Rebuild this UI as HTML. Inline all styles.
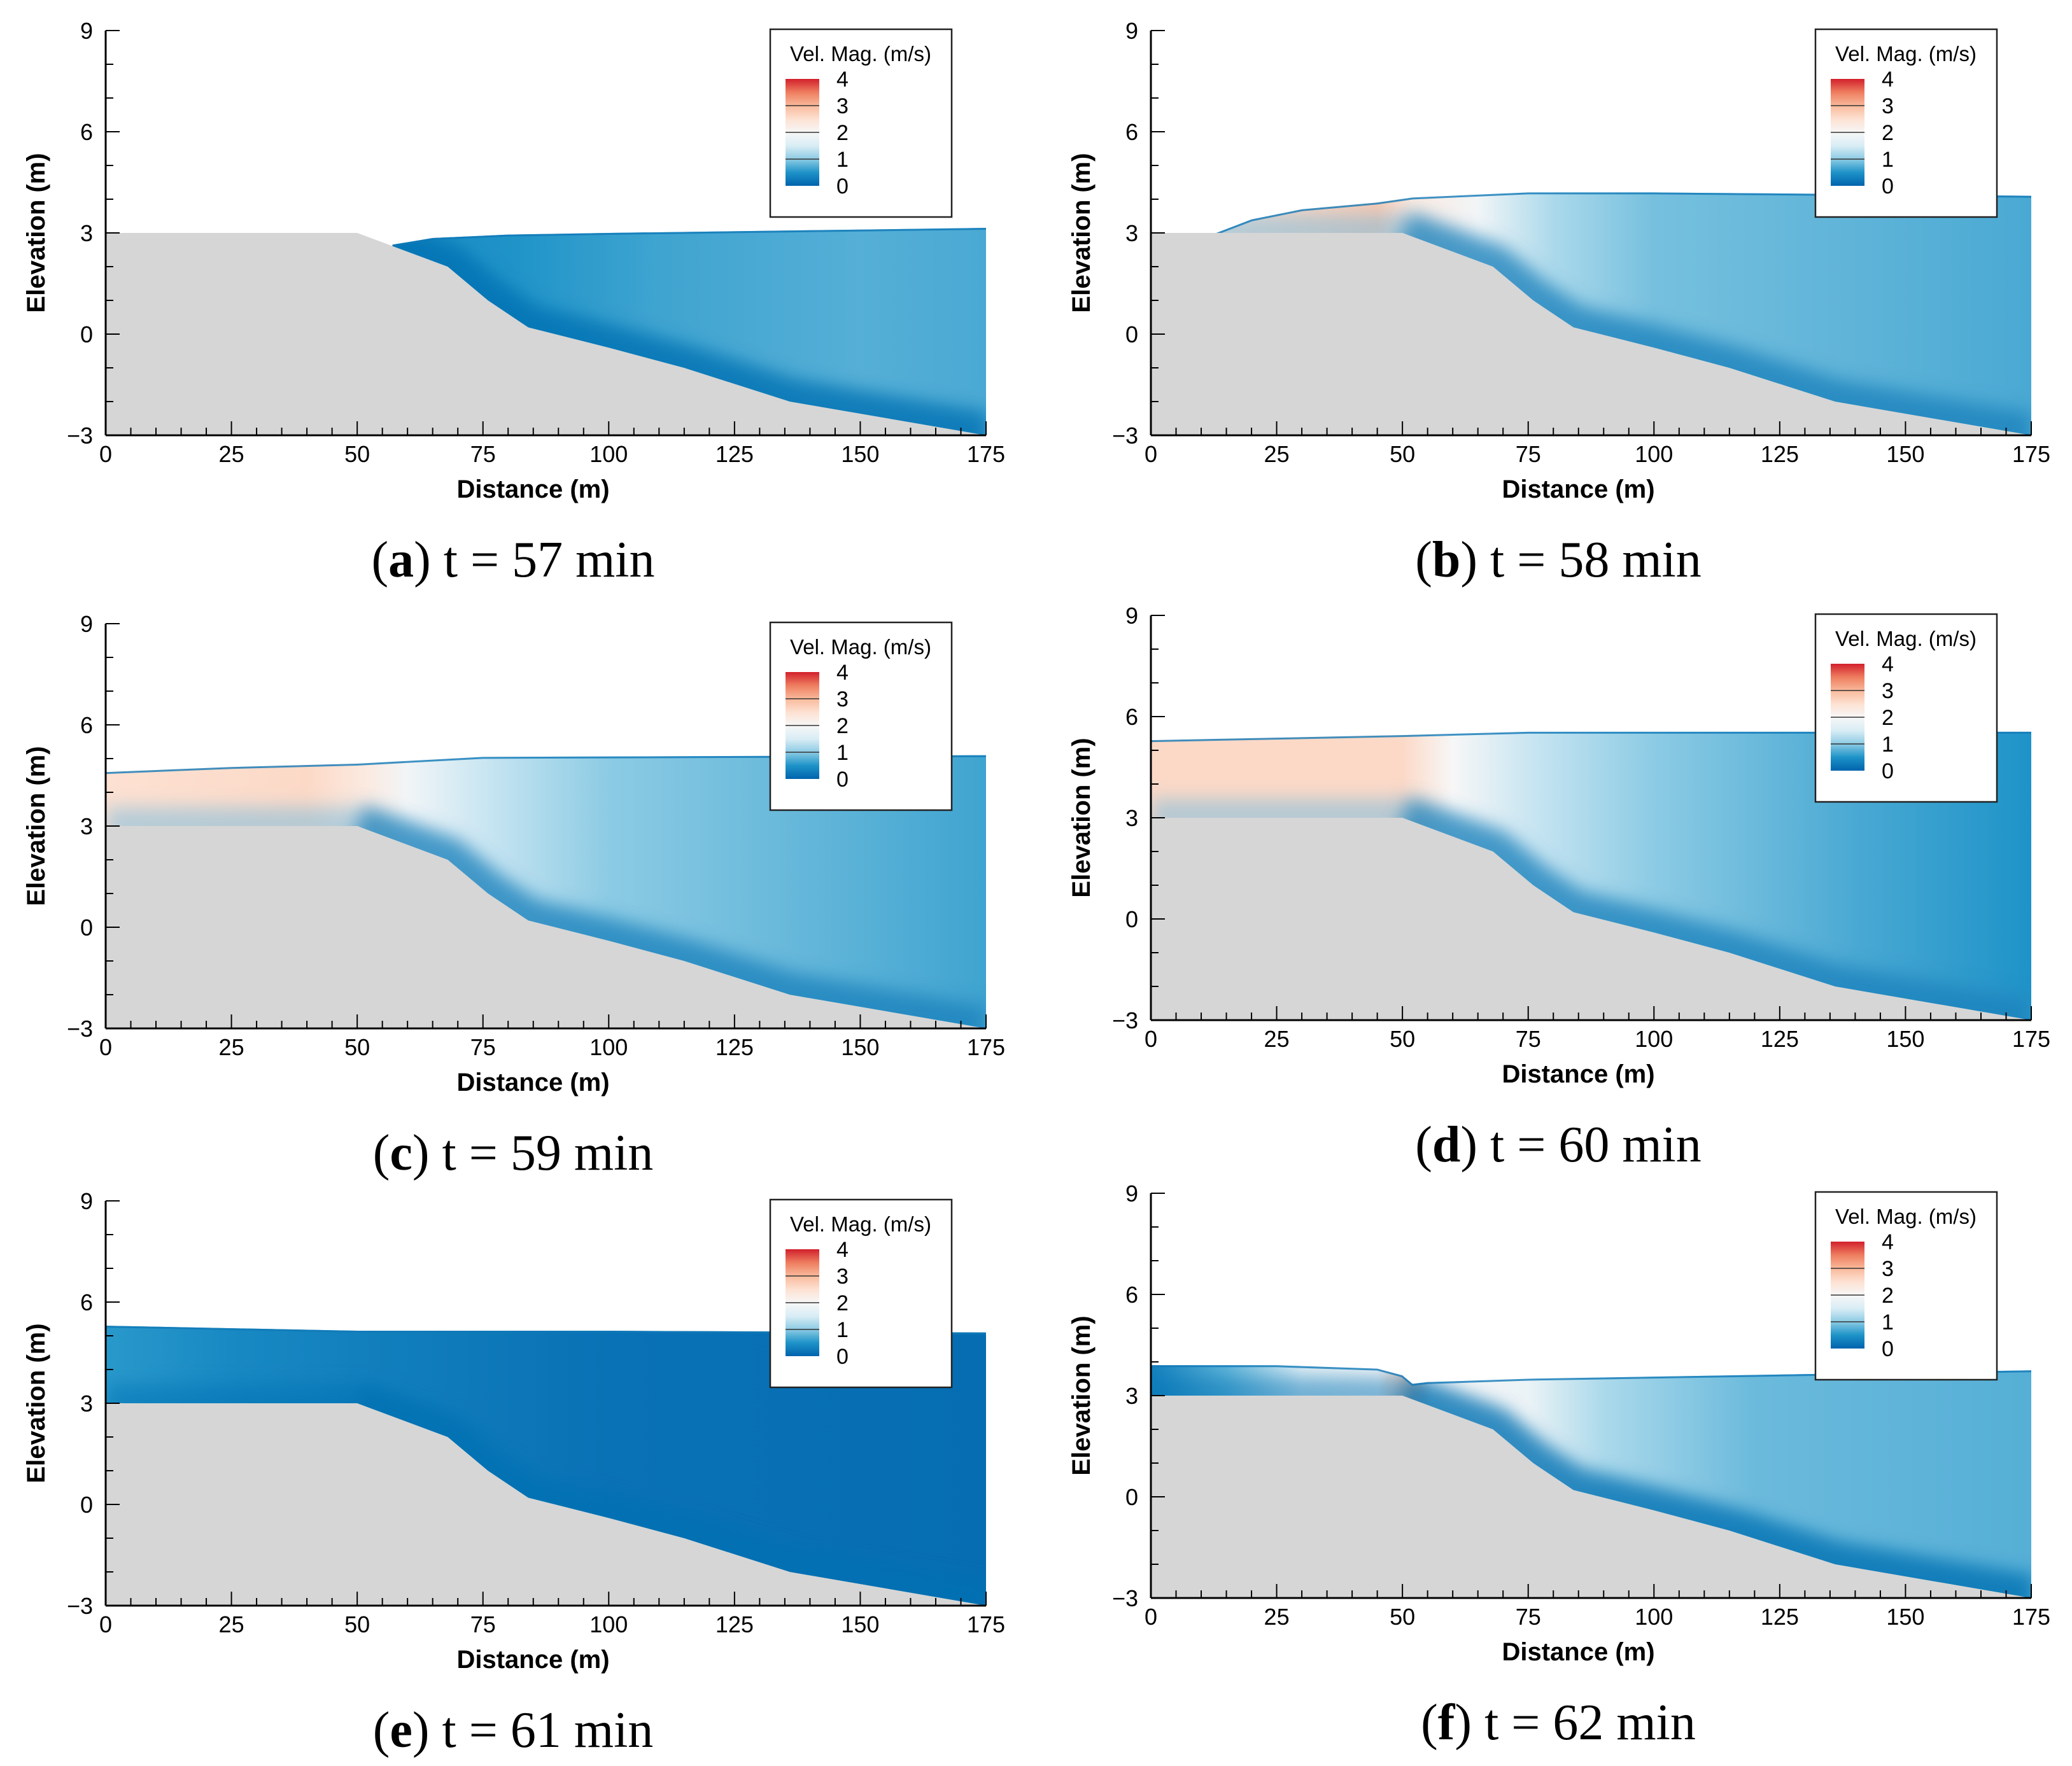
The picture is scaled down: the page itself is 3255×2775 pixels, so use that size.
<!DOCTYPE html>
<html><head><meta charset="utf-8"><style>
html,body{margin:0;padding:0;background:#fff}
svg{display:block}
text{font-family:"Liberation Sans",sans-serif}
</style></head><body>
<svg id="fig" width="3255" height="2775" viewBox="0 0 3255 2775" xmlns="http://www.w3.org/2000/svg">
<defs id="defs"><filter id="blur" x="-10%" y="-50%" width="120%" height="200%"><feGaussianBlur stdDeviation="14"/></filter></defs>
</svg>
<script>
// ---- data ----
const xTicks = [0,25,50,75,100,125,150,175];
const yTicks = [-3,0,3,6,9];
const legendTicks = [0,1,2,3,4];
const bedX = [0,50,68,76,84,100,115,136,175];
const bedZ = [3,3,2,1,0.2,-0.4,-1,-2,-3];
const panelIds = ['a','b','c','d','e','f'];
const panelTimes = [57,58,59,60,61,62];
const surfA_X=[57,65,80,100,150,175], surfA_Z=[2.65,2.85,2.95,3.0,3.1,3.15];
const surfB_X=[13,20,30,45,52,75,100,140,175], surfB_Z=[3.0,3.4,3.7,3.9,4.05,4.2,4.2,4.15,4.1];
const surfC_X=[0,25,50,75,175], surfC_Z=[4.6,4.75,4.85,5.05,5.1];
const surfD_X=[0,50,75,175], surfD_Z=[5.3,5.45,5.55,5.55];
const surfE_X=[0,50,100,175], surfE_Z=[5.3,5.15,5.15,5.1];
const surfF_X=[0,25,45,50,52,55,75,175], surfF_Z=[3.9,3.9,3.8,3.6,3.35,3.4,3.5,3.75];
const velA_X=[57,80,110,150,175], velA_V=[0.45,0.5,0.65,0.75,0.7];
const velB_X=[13,45,52,65,80,100,175], velB_V=[2.5,2.8,2.3,1.9,1.2,0.9,0.7];
const velC_X=[0,40,52,60,75,100,175], velC_V=[2.5,2.6,2.3,1.9,1.4,1.0,0.65];
const velD_X=[0,50,60,75,100,140,175], velD_V=[2.6,2.6,2.0,1.4,1.0,0.7,0.5];
const velE_X=[0,25,50,100,175], velE_V=[0.55,0.4,0.3,0.15,0.1];
const velF_X=[0,15,30,45,52,56,75,90,120,175], velF_V=[0.3,0.8,1.7,2.0,2.9,2.0,1.8,1.2,0.85,0.75];
const surfXs=[surfA_X,surfB_X,surfC_X,surfD_X,surfE_X,surfF_X];
const surfZs=[surfA_Z,surfB_Z,surfC_Z,surfD_Z,surfE_Z,surfF_Z];
const velXs=[velA_X,velB_X,velC_X,velD_X,velE_X,velF_X];
const velVs=[velA_V,velB_V,velC_V,velD_V,velE_V,velF_V];
// layout
const origins=[[166,48],[1808,48],[166,980],[1808,967],[166,1887],[1808,1875]];
const PW=1383, PH=636;
const cmapV=[0,0.5,1,1.5,2,2.5,3,3.5,4];
const cmapC=['#0063ad','#1e93c8','#8ccbe4','#d9edf5','#f7f7f7','#fde1d2','#f9b99b','#ee7d5f','#d2202c'];

const NS='http://www.w3.org/2000/svg';
const svg=document.getElementById('fig');
const defs=document.getElementById('defs');
function mk(tag,attrs,parent){const e=document.createElementNS(NS,tag);for(const k in attrs)e.setAttribute(k,attrs[k]);(parent||svg).appendChild(e);return e;}
function hex(c){return [parseInt(c.slice(1,3),16),parseInt(c.slice(3,5),16),parseInt(c.slice(5,7),16)];}
function cmap(v){v=Math.max(0,Math.min(4,v));let i=0;while(i<cmapV.length-2&&v>cmapV[i+1])i++;
 const t=(v-cmapV[i])/(cmapV[i+1]-cmapV[i]);const a=hex(cmapC[i]),b=hex(cmapC[i+1]);
 return 'rgb('+a.map((x,k)=>Math.round(x+(b[k]-x)*t)).join(',')+')';}
function bedAt(x){for(let i=0;i<bedX.length-1;i++){if(x<=bedX[i+1]){const t=(x-bedX[i])/(bedX[i+1]-bedX[i]);return bedZ[i]+t*(bedZ[i+1]-bedZ[i]);}}return bedZ[bedZ.length-1];}

panelIds.forEach((id,p)=>{
 const [ox,oy]=origins[p];
 const sx=x=>ox+x/175*PW, sy=z=>oy+(9-z)/12*PH;
 const g=mk('g',{});
 
 
 // bed
 let d='M'+sx(0)+','+sy(-3);
 bedX.forEach((x,i)=>{d+=' L'+sx(x)+','+sy(bedZ[i]);});
 d+=' L'+sx(175)+','+sy(-3)+' Z';
 const bed=mk('path',{d:d,fill:'#d6d6d6'},g);
 
 
 // water gradient
 const gid='grad'+id;
 const lg=mk('linearGradient',{id:gid,gradientUnits:'userSpaceOnUse',x1:sx(0),y1:0,x2:sx(175),y2:0},defs);
 velXs[p].forEach((x,i)=>{mk('stop',{offset:(x/175),'stop-color':cmap(velVs[p][i])},lg);});
 const SX=surfXs[p],SZ=surfZs[p];
 let wd='M'+sx(SX[0])+','+sy(SZ[0]);
 SX.forEach((x,i)=>{wd+=' L'+sx(x)+','+sy(SZ[i]);});
 const bpts=[175].concat(bedX.filter(x=>x<175&&x>SX[0]).reverse()).concat([SX[0]]);
 bpts.forEach(x=>{wd+=' L'+sx(x)+','+sy(bedAt(x));});
 wd+=' Z';
 const cid='clip'+id;
 const cp=mk('clipPath',{id:cid},defs);mk('path',{d:wd},cp);
 const water=mk('path',{d:wd,fill:'url(#'+gid+')'},g);
 
 
 // soft darker layer near bed (slope part stronger)
 const cg=mk('g',{'clip-path':'url(#'+cid+')'},g);
 let bd='';bedX.forEach((x,i)=>{bd+=(i?' L':'M')+sx(x)+','+sy(bedZ[i]);});
 let bd2='';bedX.filter(x=>x>=50).forEach((x,i)=>{bd2+=(i?' L':'M')+sx(x)+','+sy(bedAt(x));});
 const band=mk('path',{d:bd,fill:'none',stroke:p===1||p===2||p===3?'#6fb9dd':'#0872b4','stroke-opacity':0.5,'stroke-width':60,filter:'url(#blur)'},cg);
 
 
 mk('path',{d:bd2,fill:'none',stroke:'#0070b3','stroke-opacity':0.6,'stroke-width':70,filter:'url(#blur)'},cg);
 let sd='';SX.forEach((x,i)=>{sd+=(i?' L':'M')+sx(x)+','+sy(SZ[i]);});
 const sl=mk('path',{d:sd,fill:'none',stroke:'#1279b8','stroke-width':6,'stroke-opacity':0.8},cg);
 
 
 // axes
 mk('line',{x1:ox,y1:oy,x2:ox,y2:oy+PH,stroke:'#000','stroke-width':3},g);
 mk('line',{x1:ox,y1:oy+PH,x2:ox+PW,y2:oy+PH,stroke:'#000','stroke-width':3},g);
 for(let x=0;x<=175;x+=5){const maj=x%25===0;mk('line',{x1:sx(x),x2:sx(x),y1:oy+PH,y2:oy+PH-(maj?22:12),stroke:'#000','stroke-width':2},g);}
 for(let z=-3;z<=9;z++){const maj=z%3===0;mk('line',{x1:ox,x2:ox+(maj?22:12),y1:sy(z),y2:sy(z),stroke:'#000','stroke-width':2},g);}
 xTicks.forEach(x=>{const t=mk('text',{x:sx(x),y:oy+PH+42,'font-size':36,'text-anchor':'middle'},g);t.textContent=x;
  });
 yTicks.forEach(z=>{const t=mk('text',{x:ox-20,y:sy(z)+13,'font-size':36,'text-anchor':'end'},g);t.textContent=z<0?'\u2212'+(-z):z;
  });
 const xt=mk('text',{x:ox+PW/2-20,y:oy+PH+98,'font-size':40,'font-weight':'bold','text-anchor':'middle'},g);xt.textContent='Distance (m)';
 
 const yt=mk('text',{x:0,y:0,'font-size':40,'font-weight':'bold','text-anchor':'middle',transform:'translate('+(ox-96)+','+(oy+PH/2)+') rotate(-90)'},g);yt.textContent='Elevation (m)';
 
 // legend
 const lx=ox+1044, ly=oy-2;
 const lgG=mk('g',{},g);
 
 
 mk('rect',{x:lx,y:ly,width:285,height:295,fill:'#fff',stroke:'#222','stroke-width':2.5},lgG);
 const lt=mk('text',{x:lx+142,y:ly+50,'font-size':33,'text-anchor':'middle'},lgG);lt.textContent='Vel. Mag. (m/s)';
 const cbid='cb'+id;
 const cg2=mk('linearGradient',{id:cbid,x1:0,y1:1,x2:0,y2:0},defs);
 cmapV.forEach((v,i)=>mk('stop',{offset:v/4,'stop-color':cmapC[i]},cg2));
 const cbx=lx+24, cby=ly+78, cbh=168, cbw=53;
 mk('rect',{x:cbx,y:cby,width:cbw,height:cbh,fill:'url(#'+cbid+')'},lgG);
 legendTicks.forEach(v=>{const y=cby+cbh-v/4*cbh;
  if(v>0&&v<4)mk('line',{x1:cbx,x2:cbx+cbw,y1:y,y2:y,stroke:'#333','stroke-width':1.5},lgG);
  const t=mk('text',{x:cbx+80,y:y+12,'font-size':34},lgG);t.textContent=v;});
 // caption
 const cap=mk('text',{x:ox+640,y:oy+PH+222,'font-size':80,'text-anchor':'middle'},g);
 cap.style.fontFamily='"Liberation Serif",serif';
 
 
 const b=mk('tspan',{'font-weight':'bold'},cap);
 cap.insertBefore(document.createTextNode('('),b);b.textContent=id;
 cap.appendChild(document.createTextNode(') t = '+panelTimes[p]+' min'));
});
</script>
</body></html>
